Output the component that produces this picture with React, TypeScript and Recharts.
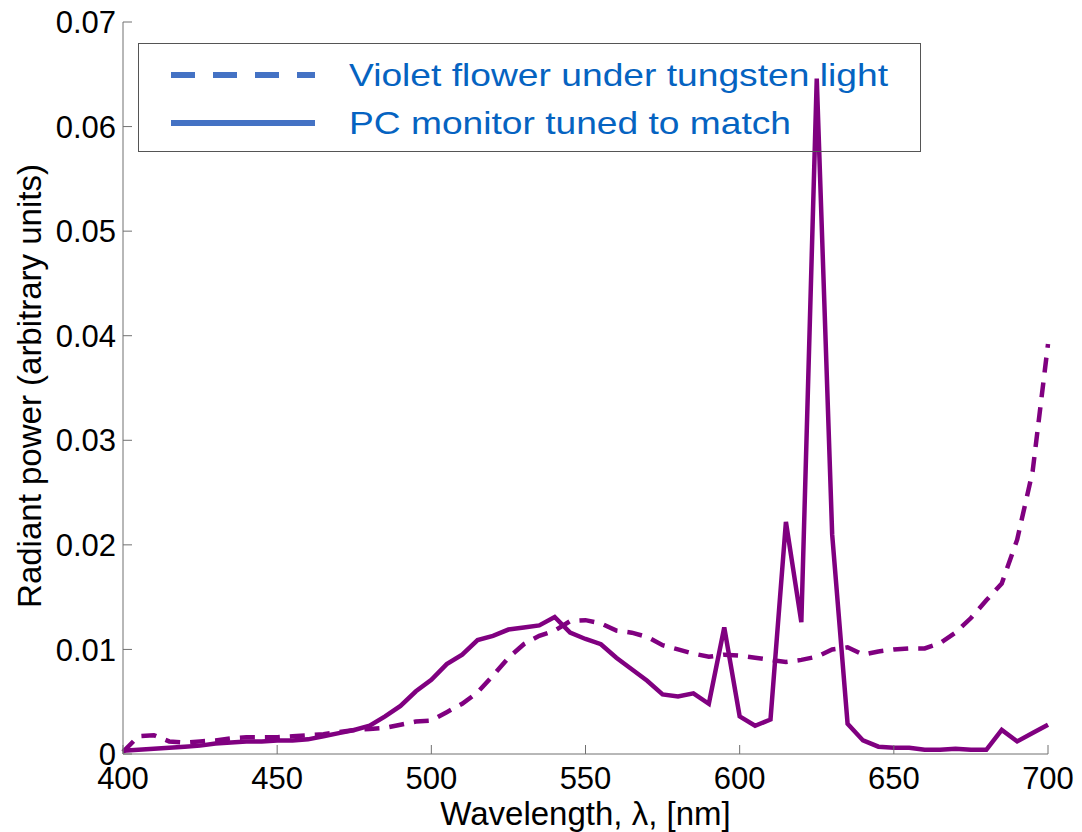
import React from 'react'
import { Legend, Line, LineChart, XAxis, YAxis } from 'recharts'

const wavelengths = [
  400, 405, 410, 415, 420, 425, 430, 435, 440, 445, 450, 455, 460, 465, 470, 475,
  480, 485, 490, 495, 500, 505, 510, 515, 520, 525, 530, 535, 540, 545, 550, 555,
  560, 565, 570, 575, 580, 585, 590, 595, 600, 605, 610, 615, 620, 625, 630, 635,
  640, 645, 650, 655, 660, 665, 670, 675, 680, 685, 690, 695, 700,
]

const flowerPower = [
  0.0002, 0.0017, 0.0018, 0.0012, 0.0011, 0.0012, 0.0013, 0.0015, 0.0016, 0.0016,
  0.0016, 0.0017, 0.0018, 0.0019, 0.0021, 0.0023, 0.0024, 0.0025, 0.0028, 0.0031,
  0.0032, 0.004, 0.0048, 0.0059, 0.0075, 0.0092, 0.0105, 0.0113, 0.0118, 0.0127,
  0.0128, 0.0125, 0.0118, 0.0116, 0.0112, 0.0104, 0.01, 0.0096, 0.0093, 0.0095,
  0.0094, 0.0092, 0.009, 0.0088, 0.009, 0.0093, 0.01, 0.0102, 0.0095, 0.0098,
  0.01, 0.0101, 0.0101, 0.0106, 0.0116, 0.013, 0.0147, 0.0163, 0.0205, 0.027,
  0.0392,
]

const monitorPower = [
  0.0003, 0.0004, 0.0005, 0.0006, 0.0007, 0.0008, 0.001, 0.0011, 0.0012, 0.0012,
  0.0013, 0.0013, 0.0014, 0.0017, 0.002, 0.0023, 0.0027, 0.0036, 0.0046, 0.006,
  0.0071, 0.0086, 0.0095, 0.0109, 0.0113, 0.0119, 0.0121, 0.0123, 0.0131, 0.0116,
  0.011, 0.0105, 0.0092, 0.0081, 0.007, 0.0057, 0.0055, 0.0058, 0.0048, 0.0121,
  0.0036, 0.0027, 0.0033, 0.0222, 0.0126, 0.0646, 0.021, 0.0029, 0.0013, 0.0007,
  0.0006, 0.0006, 0.0004, 0.0004, 0.0005, 0.0004, 0.0004, 0.0023, 0.0012, 0.002,
  0.0028,
]

const xTicks = [400, 450, 500, 550, 600, 650, 700]
const yTicks = [0, 0.01, 0.02, 0.03, 0.04, 0.05, 0.06, 0.07]

const data = wavelengths.map((wl, i) => ({
  wl,
  flower: flowerPower[i],
  monitor: monitorPower[i],
}))

const FONT = '"Liberation Sans", Arial, sans-serif'
const PURPLE = '#800080'
const AXIS = '#707070'
const TICK = '#707070'
const TICK_LEN = 9

const fmtY = (v: number) => (v === 0 ? '0' : v.toFixed(2))

// ticks point inward, matlab style, on all four sides
const BottomTick = ({ x, y, payload }: any) => (
  <g>
    <line x1={x} y1={y} x2={x} y2={y - TICK_LEN} stroke={TICK} />
    <text x={x} y={y + 35} textAnchor="middle" fontSize={31} fill="#000" fontFamily={FONT}>
      {payload.value}
    </text>
  </g>
)

const TopTick = ({ x, y }: any) => (
  <line x1={x} y1={y} x2={x} y2={y + TICK_LEN} stroke={TICK} />
)

const LeftTick = ({ x, y, payload }: any) => (
  <g>
    <line x1={x} y1={y} x2={x + TICK_LEN} y2={y} stroke={TICK} />
    <text x={x - 7} y={y} dy="0.36em" textAnchor="end" fontSize={31} fill="#000" fontFamily={FONT}>
      {fmtY(payload.value)}
    </text>
  </g>
)

const RightTick = ({ x, y }: any) => (
  <line x1={x} y1={y} x2={x - TICK_LEN} y2={y} stroke={TICK} />
)

const legendItems = [
  { key: 'flower', label: 'Violet flower under tungsten light', dash: '24 18' },
  { key: 'monitor', label: 'PC monitor tuned to match', dash: undefined },
]

const LegendBox = () => (
  <svg width={784} height={110} style={{ display: 'block' }}>
    <rect x={0.5} y={0.5} width={782} height={108} fill="none" stroke="#555" strokeWidth={1} />
    {legendItems.map((item, i) => (
      <g key={item.key}>
        <line
          x1={33}
          x2={177}
          y1={32 + i * 48}
          y2={32 + i * 48}
          stroke="#4472C4"
          strokeWidth={6}
          strokeDasharray={item.dash}
        />
        <text
          x={211}
          y={43 + i * 48}
          fontSize={32}
          fill="#0563C1"
          fontFamily={FONT}
          textLength={item.key === 'flower' ? 539 : 442}
          lengthAdjust="spacingAndGlyphs"
        >
          {item.label}
        </text>
      </g>
    ))}
  </svg>
)

export default function App() {
  return (
    <div style={{ position: 'absolute', left: 0, top: 0, width: 1082, height: 832, background: '#fff' }}>
      <LineChart
        width={1082}
        height={832}
        data={data}
        margin={{ top: 22, right: 34, bottom: 18, left: 23 }}
      >
        <XAxis
          xAxisId="bottom"
          dataKey="wl"
          type="number"
          domain={[400, 700]}
          ticks={xTicks}
          height={60}
          tickSize={0}
          tickMargin={0}
          tickLine={false}
          axisLine={{ stroke: AXIS, strokeWidth: 1 }}
          tick={BottomTick}
          label={({ viewBox }: any) => (
            <text
              x={viewBox.x + viewBox.width / 2}
              y={825}
              textAnchor="middle"
              fontSize={33}
              fill="#000"
              fontFamily={FONT}
            >
              Wavelength, λ, [nm]
            </text>
          )}
        />
        <XAxis
          xAxisId="top"
          dataKey="wl"
          type="number"
          orientation="top"
          domain={[400, 700]}
          ticks={xTicks}
          height={0}
          tickSize={0}
          tickMargin={0}
          tickLine={false}
          axisLine={{ stroke: AXIS, strokeWidth: 1 }}
          tick={TopTick}
        />
        <YAxis
          yAxisId="left"
          type="number"
          domain={[0, 0.07]}
          ticks={yTicks}
          width={100}
          tickSize={0}
          tickMargin={0}
          tickLine={false}
          axisLine={{ stroke: AXIS, strokeWidth: 1 }}
          tick={LeftTick}
          label={({ viewBox }: any) => {
            const cx = 41
            const cy = viewBox.y + viewBox.height / 2 - 2
            return (
              <text
                x={cx}
                y={cy}
                transform={`rotate(-90, ${cx}, ${cy})`}
                textAnchor="middle"
                fontSize={33}
                fill="#000"
                fontFamily={FONT}
              >
                Radiant power (arbitrary units)
              </text>
            )
          }}
        />
        <YAxis
          yAxisId="right"
          orientation="right"
          type="number"
          domain={[0, 0.07]}
          ticks={yTicks}
          width={0}
          tickSize={0}
          tickMargin={0}
          tickLine={false}
          axisLine={{ stroke: AXIS, strokeWidth: 1 }}
          tick={RightTick}
        />
        <Legend
          layout="vertical"
          align="center"
          verticalAlign="middle"
          wrapperStyle={{ left: 138, top: 43, width: 784, height: 110 }}
          content={() => <LegendBox />}
        />
        <Line
          xAxisId="bottom"
          yAxisId="left"
          dataKey="flower"
          name="Violet flower under tungsten light"
          stroke={PURPLE}
          strokeWidth={4.5}
          strokeDasharray="15 10"
          dot={false}
          activeDot={false}
          type="linear"
          isAnimationActive={false}
        />
        <Line
          xAxisId="bottom"
          yAxisId="left"
          dataKey="monitor"
          name="PC monitor tuned to match"
          stroke={PURPLE}
          strokeWidth={4.5}
          dot={false}
          activeDot={false}
          type="linear"
          isAnimationActive={false}
        />
      </LineChart>
    </div>
  )
}
